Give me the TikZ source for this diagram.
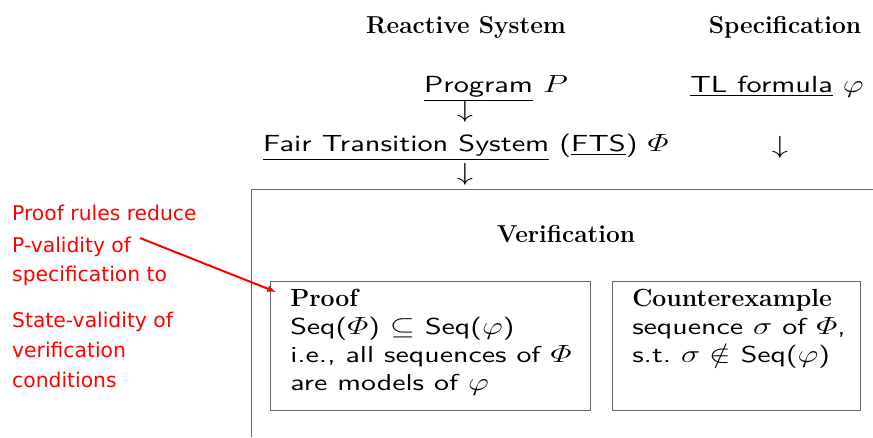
\documentclass[tikz,border=0pt]{standalone}
\usepackage{amsmath}
\usepackage{amssymb}
\usepackage{fontspec}
\usepackage{graphicx}
\setsansfont{lmsans10-regular.otf}
\newfontfamily\redfont{DejaVu Sans}
\newcommand{\bxhead}[1]{\scalebox{0.76923}[1]{\fontsize{24.8}{28}\selectfont\rmfamily\bfseries #1}}
\usetikzlibrary{calc}
\begin{document}
\begin{tikzpicture}[x=0.76923pt,y=-1pt,xscale=1.3,
  every node/.append style={transform shape},
  title/.style={font=\fontsize{24.5}{28}\selectfont\bfseries, inner sep=0, xscale=0.76923},
  sans/.style={font=\fontsize{23.3}{28}\selectfont\sffamily, inner sep=0},
  boxtext/.style={font=\fontsize{23}{28}\selectfont\sffamily, inner sep=0, align=left, anchor=north west},
  frame/.style={draw=black!60, line width=1pt},
  redtext/.style={font=\fontsize{20.3}{24}\selectfont\redfont, text=red, inner sep=0, anchor=base west, xscale=0.76923},
  redarrow/.style={draw=red, line width=2pt, -latex}
]
\useasboundingbox (0,0) rectangle (873,437);
\fill[white] (0,0) rectangle (873,437);

% headings
\node[title] (rs) at (466,27) {Reactive System};
\node[title] (spec) at (785,27) {Specification};

% left column
\node[sans, anchor=base] (prog) at (496,92) {\underline{Program} $P$};
\node[sans, anchor=base] (a1) at (465,117) {$\downarrow$};
\node[sans, anchor=base] (fts) at (466,151) {\underline{Fair Transition System} (\underline{FTS}) $\varPhi$};
\node[sans, anchor=base] (a2) at (465,180) {$\downarrow$};

% right column
\node[sans, anchor=base] (tl) at (777,92) {\underline{TL formula} $\varphi$};
\node[sans, anchor=base] (a3) at (780,153) {$\downarrow$};

% verification frame
\coordinate (fr) at (873,189);
\coordinate (ftl) at (251,189);
\coordinate (fb) at (251,437);
\draw[frame] (fr) -- (ftl) -- (fb);
\node[title] (ver) at (566,234) {Verification};

% proof box
\node[frame, minimum width=246.15, minimum height=129, anchor=north west, inner sep=0] (proof) at (270,281) {};
\node[boxtext] (prooftext) at (290,289) {\bxhead{Proof}\\
Seq($\varPhi$) $\subseteq$ Seq($\varphi$)\\
i.e., all sequences of $\varPhi$\\
are models of $\varphi$};

% counterexample box
\node[frame, minimum width=190.77, minimum height=129, anchor=north west, inner sep=0] (cex) at (612,281) {};
\node[boxtext] (cextext) at (632,289) {\bxhead{Counterexample}\\
sequence $\sigma$ of $\varPhi$,\\
s.t.\ $\sigma \notin$ Seq($\varphi$)};

% red annotation
\node[redtext] (r1) at (12,220) {Proof rules reduce};
\node[redtext] (r2) at (12,252) {P-validity of};
\node[redtext] (r3) at (12,281) {specification to};
\node[redtext] (r4) at (12,327) {State-validity of};
\node[redtext] (r5) at (12,357) {verification};
\node[redtext] (r6) at (12,387) {conditions};
\coordinate (rs2) at (140,238);
\coordinate (rt) at ($(proof.north west)+(6,11)$);
\draw[redarrow] (rs2) -- (rt);
\end{tikzpicture}
\end{document}
